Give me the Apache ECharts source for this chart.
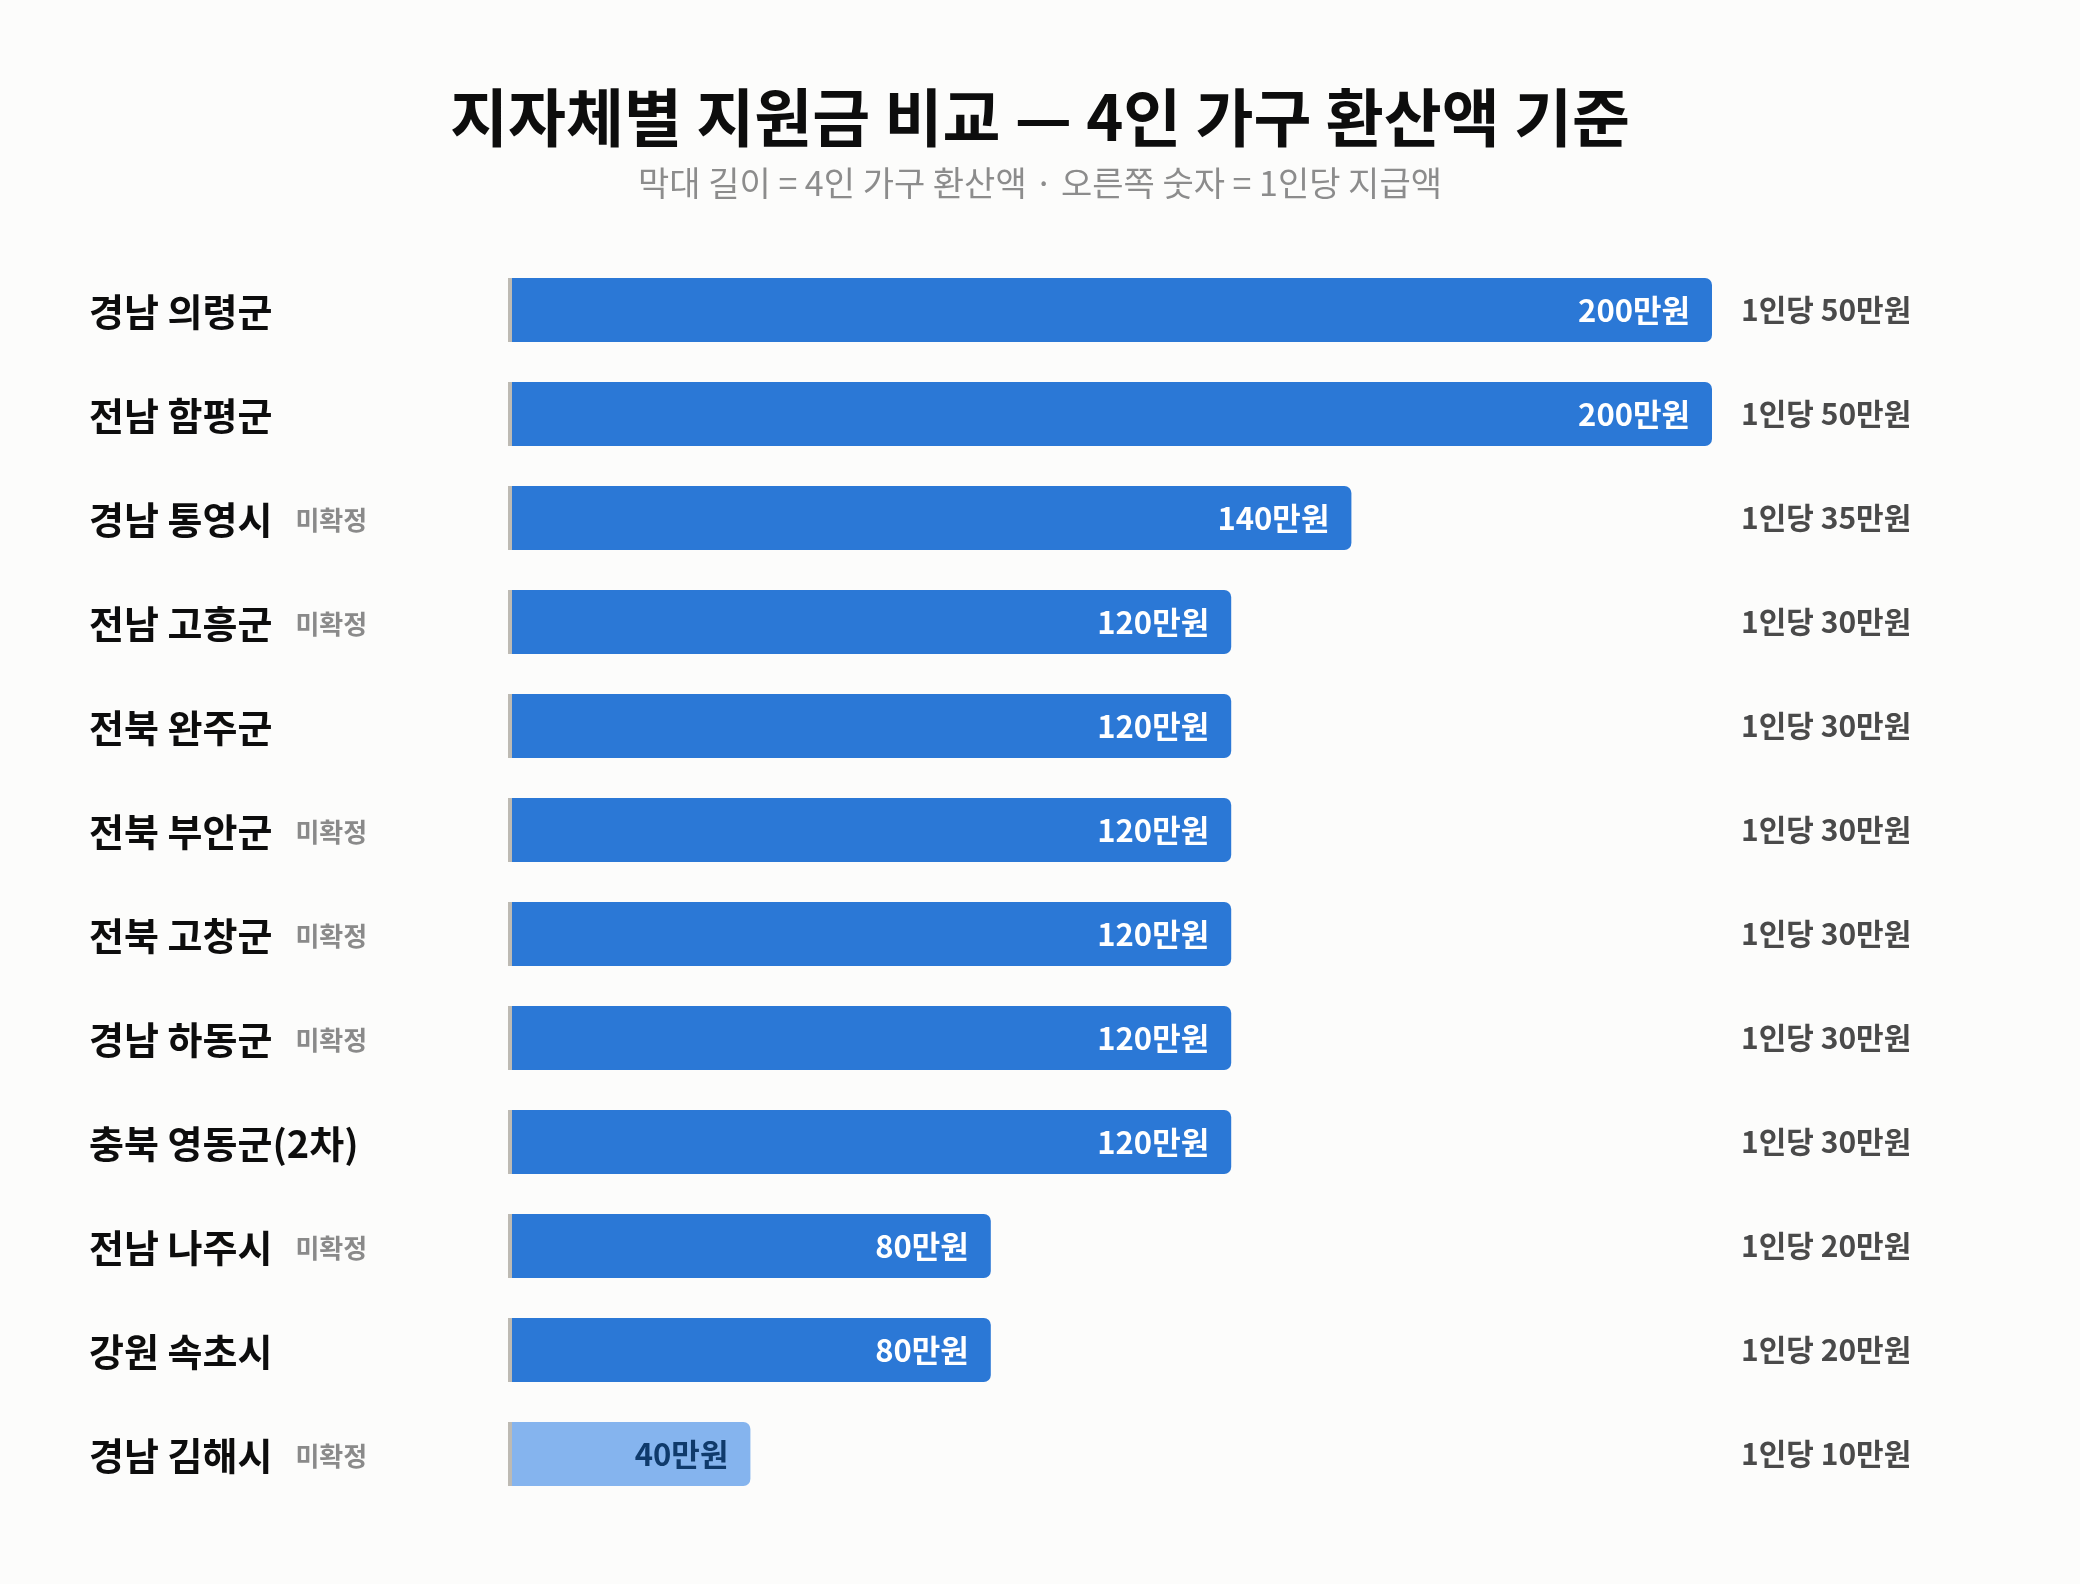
<!DOCTYPE html>
<html>
<head>
<meta charset="utf-8">
<script src="https://cdn.jsdelivr.net/npm/echarts@6/dist/echarts.min.js"></script>
<style>
  html, body { margin: 0; padding: 0; background: #fcfcfb; }
  #chart { width: 2080px; height: 1584px; }
</style>
</head>
<body>
<div id="chart"></div>
<script>
const regions = ['경남 의령군','전남 함평군','경남 통영시','전남 고흥군','전북 완주군','전북 부안군','전북 고창군','경남 하동군','충북 영동군(2차)','전남 나주시','강원 속초시','경남 김해시'];
const pending = [false,false,true,true,false,true,true,true,false,true,false,true];
const householdAmount = [200,200,140,120,120,120,120,120,120,80,80,40];
const perPersonAmount = [50,50,35,30,30,30,30,30,30,20,20,10];
const pendingTag = '미확정';
const titleText = '지자체별 지원금 비교 — 4인 가구 환산액 기준';
const subtitleText = '막대 길이 = 4인 가구 환산액 · 오른쪽 숫자 = 1인당 지급액';

const FONT = '"Noto Sans CJK KR", "Noto Sans", sans-serif';
const BLUE = '#2b78d6';
const LIGHT = '#85b4ee';

const chart = echarts.init(document.getElementById('chart'), null, { renderer: 'canvas' });

const barData = householdAmount.map((v, i) => {
  const light = v <= 40;
  return {
    value: v,
    itemStyle: { color: light ? LIGHT : BLUE },
    label: { color: light ? '#0f3a6b' : '#ffffff' }
  };
});

const option = {
  backgroundColor: '#fcfcfb',
  textStyle: { fontFamily: FONT },
  title: [
    {
      text: titleText, left: 'center', top: 76,
      textStyle: { fontSize: 63, fontWeight: 'bold', color: '#0d0d0d', fontFamily: FONT, lineHeight: 72 }
    },
    {
      text: subtitleText, left: 'center', top: 158,
      textStyle: { fontSize: 34, fontWeight: 'normal', color: '#8c8c8c', fontFamily: FONT, lineHeight: 40 }
    }
  ],
  grid: { left: 510, right: 368, top: 258, bottom: 78, containLabel: false },
  xAxis: {
    type: 'value', min: 0, max: 200,
    axisLine: { show: false }, axisTick: { show: false },
    axisLabel: { show: false }, splitLine: { show: false }
  },
  yAxis: [
    {
      type: 'category', inverse: true, data: regions,
      axisLine: { show: false }, axisTick: { show: false },
      axisLabel: {
        margin: 421, align: 'left',
        formatter: (val, idx) => pending[idx] ? '{n|' + val + '}{p|' + pendingTag + '}' : '{n|' + val + '}',
        rich: {
          n: { fontSize: 38, fontWeight: 'bold', color: '#0d0d0d', fontFamily: FONT, padding: [4, 0, 0, 0] },
          p: { fontSize: 26, fontWeight: 'bold', color: '#8a8a8a', fontFamily: FONT, padding: [4, 0, 0, 23] }
        }
      }
    },
    {
      type: 'category', inverse: true, position: 'right', data: perPersonAmount.map(v => '1인당 ' + v + '만원'),
      axisLine: { show: false }, axisTick: { show: false },
      axisLabel: { margin: 29, align: 'left', fontSize: 30, fontWeight: 'bold', color: '#4a4a4a', fontFamily: FONT }
    }
  ],
  series: [
    {
      type: 'bar', yAxisIndex: 0, data: barData, barWidth: 64, z: 2,
      itemStyle: { borderRadius: [0, 7, 7, 0] },
      label: {
        show: true, position: 'insideRight', distance: 22,
        formatter: p => p.value + '만원',
        fontSize: 31, fontWeight: 'bold', fontFamily: FONT
      }
    },
    {
      type: 'custom', yAxisIndex: 0, z: 3, silent: true,
      data: householdAmount.map((v, i) => [0, i]),
      encode: { x: 0, y: 1 },
      renderItem: (params, api) => {
        const p = api.coord([api.value(0), api.value(1)]);
        return { type: 'rect', shape: { x: p[0] - 2, y: p[1] - 32, width: 4, height: 64 }, style: { fill: '#bdbab3' } };
      }
    }
  ]
};
chart.setOption(option);
</script>
</body>
</html>
